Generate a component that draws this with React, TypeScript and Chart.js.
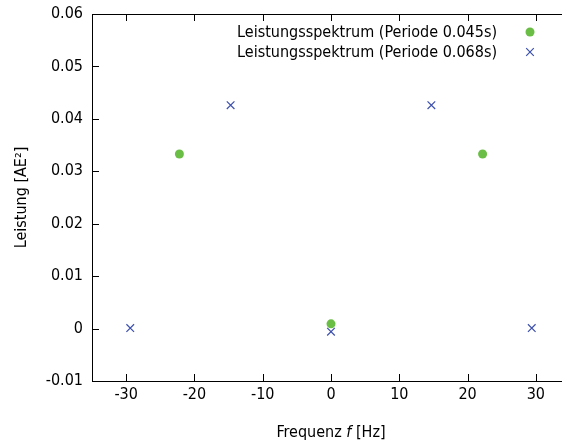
import React, { useEffect, useRef } from 'react';
import { Chart, registerables } from 'chart.js';

Chart.register(...registerables);

const seriesNames = ['Leistungsspektrum (Periode 0.045s)', 'Leistungsspektrum (Periode 0.068s)'];
const freqA = [-22.2, 0, 22.2];
const powerA = [0.0333, 0.0009, 0.0333];
const freqB = [-29.4, -14.7, 0, 14.7, 29.4];
const powerB = [0.0001, 0.0426, -0.0006, 0.0426, 0.0001];
const xTicks = [-30, -20, -10, 0, 10, 20, 30];
const xTickLabels = ['-30', '-20', '-10', '0', '10', '20', '30'];
const yTicks = [-0.01, 0, 0.01, 0.02, 0.03, 0.04, 0.05, 0.06];
const yTickLabels = ['-0.01', '0', '0.01', '0.02', '0.03', '0.04', '0.05', '0.06'];
const xTitleParts = ['Frequenz ', 'f', ' [Hz]'];
const yTitle = 'Leistung [AE²]';

const FONT = "'DejaVu Sans Condensed', 'Liberation Sans', sans-serif";
const GREEN = '#6abe45';
const BLUE = '#3d50ae';
const W = 600;
const H = 443;

const decorPlugin = {
  id: 'decor',
  afterDraw(chart: any) {
    const { ctx, chartArea } = chart;
    const { left, right, top, bottom } = chartArea;
    const xs = chart.scales.x;
    const ys = chart.scales.y;
    ctx.save();
    ctx.strokeStyle = '#000';
    ctx.lineWidth = 1;
    const L = Math.round(left) + 0.5;
    const T = Math.round(top) + 0.5;
    const B = Math.round(bottom) + 0.5;
    ctx.beginPath();
    ctx.moveTo(right + 10, T);
    ctx.lineTo(L, T);
    ctx.lineTo(L, B);
    ctx.lineTo(right + 10, B);
    ctx.stroke();
    const tl = 7;
    ctx.beginPath();
    xTicks.forEach((v) => {
      const px = Math.round(xs.getPixelForValue(v)) + 0.5;
      ctx.moveTo(px, bottom);
      ctx.lineTo(px, bottom - tl);
      ctx.moveTo(px, top);
      ctx.lineTo(px, top + tl);
    });
    yTicks.forEach((v) => {
      const py = Math.round(ys.getPixelForValue(v)) + 0.5;
      ctx.moveTo(left, py);
      ctx.lineTo(left + tl, py);
    });
    ctx.stroke();

    // legend
    ctx.fillStyle = '#000';
    ctx.font = `16px ${FONT}`;
    ctx.textAlign = 'right';
    ctx.textBaseline = 'middle';
    const legTextX = 497;
    const legSymX = 530;
    const rows = [33, 53];
    ctx.fillText(seriesNames[0], legTextX, rows[0]);
    ctx.fillText(seriesNames[1], legTextX, rows[1]);
    ctx.fillStyle = GREEN;
    ctx.beginPath();
    ctx.arc(legSymX, rows[0] - 1, 4.5, 0, Math.PI * 2);
    ctx.fill();
    ctx.strokeStyle = BLUE;
    ctx.lineWidth = 1.2;
    ctx.beginPath();
    const d = 3.8;
    ctx.moveTo(legSymX - d, rows[1] - 1 - d);
    ctx.lineTo(legSymX + d, rows[1] - 1 + d);
    ctx.moveTo(legSymX - d, rows[1] - 1 + d);
    ctx.lineTo(legSymX + d, rows[1] - 1 - d);
    ctx.stroke();

    // x title with italic f
    ctx.fillStyle = '#000';
    ctx.textAlign = 'left';
    ctx.textBaseline = 'middle';
    const fonts = [`16px ${FONT}`, `italic 16px ${FONT}`, `16px ${FONT}`];
    const widths = xTitleParts.map((t, i) => {
      ctx.font = fonts[i];
      return ctx.measureText(t).width;
    });
    const total = widths.reduce((a, b) => a + b, 0);
    let x = 331 - total / 2;
    xTitleParts.forEach((t, i) => {
      ctx.font = fonts[i];
      ctx.fillText(t, x, 433);
      x += widths[i];
    });

    // y title
    ctx.font = `16px ${FONT}`;
    ctx.textAlign = 'center';
    ctx.translate(22, (top + bottom) / 2);
    ctx.rotate(-Math.PI / 2);
    ctx.fillText(yTitle, 0, 0);
    ctx.restore();
  },
};

export default function App() {
  const ref = useRef<HTMLCanvasElement>(null);
  useEffect(() => {
    const canvas = ref.current;
    if (!canvas) return;
    const chart = new Chart(canvas, {
      type: 'scatter',
      data: {
        datasets: [
          {
            label: seriesNames[0],
            data: freqA.map((f, i) => ({ x: f, y: powerA[i] })),
            pointStyle: 'circle',
            pointRadius: 4.5,
            pointBackgroundColor: GREEN,
            pointBorderWidth: 0,
            showLine: false,
          },
          {
            label: seriesNames[1],
            data: freqB.map((f, i) => ({ x: f, y: powerB[i] })),
            pointStyle: 'crossRot',
            pointRadius: 5.4,
            pointBorderColor: BLUE,
            pointBorderWidth: 1.2,
            showLine: false,
          },
        ],
      },
      options: {
        responsive: false,
        animation: false,
        devicePixelRatio: 1,
        layout: { padding: { left: 0, right: W - 570, top: 14, bottom: 0 } },
        plugins: { legend: { display: false }, tooltip: { enabled: false } },
        scales: {
          x: {
            type: 'linear',
            min: -35,
            max: 35,
            afterFit: (s: any) => { s.height = 62; s.paddingLeft = 0; s.paddingRight = 0; },
            afterBuildTicks: (s: any) => { s.ticks = xTicks.map((v) => ({ value: v })); },
            ticks: {
              autoSkip: false,
              maxRotation: 0,
              padding: 4,
              color: '#000',
              font: { family: FONT, size: 16 },
              callback: (v: any) => xTickLabels[xTicks.indexOf(Number(v))] ?? '',
            },
            grid: { display: false, drawTicks: false },
            border: { display: false },
          },
          y: {
            type: 'linear',
            min: -0.01,
            max: 0.06,
            afterFit: (s: any) => { s.width = 92; s.paddingTop = 0; s.paddingBottom = 0; },
            afterBuildTicks: (s: any) => { s.ticks = yTicks.map((v) => ({ value: v })); },
            ticks: {
              autoSkip: false,
              padding: 9,
              color: '#000',
              font: { family: FONT, size: 16 },
              callback: (v: any) => {
                const i = yTicks.findIndex((t) => Math.abs(t - Number(v)) < 1e-9);
                return i >= 0 ? yTickLabels[i] : '';
              },
            },
            grid: { display: false, drawTicks: false },
            border: { display: false },
          },
        },
      },
      plugins: [decorPlugin],
    });
    return () => chart.destroy();
  }, []);
  return (
    <div style={{ position: 'fixed', left: 0, top: 0, width: 562, height: 443, overflow: 'hidden', background: '#fff' }}>
      <canvas ref={ref} width={W} height={H} style={{ width: W, height: H, display: 'block' }} />
    </div>
  );
}
